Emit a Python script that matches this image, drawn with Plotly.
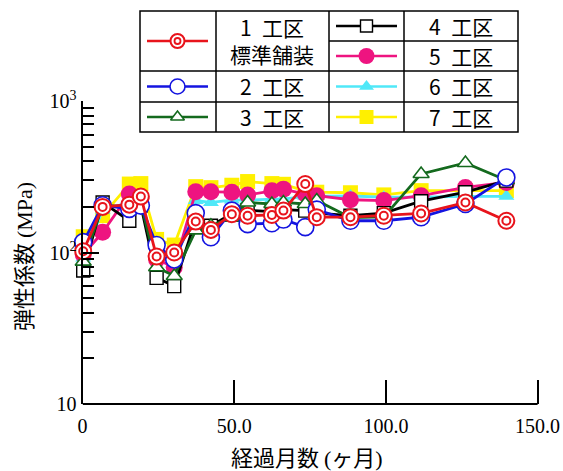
import plotly.graph_objects as go

# ---------------- data ----------------
months = [0.2, 6.6, 15.4, 19.2, 24.4, 30.2, 37.3, 42.3, 49.2, 54.4, 62.4, 66.2,
          73.4, 77.2, 88.3, 99.3, 111.6, 126.2, 139.7]
sec1 = [102, 200, 207, 234, 94, 100, 160, 141, 179, 175, 177, 189, 283, 171, 171, 175, 181, 214, 162]
sec2 = [117, 205, 194, 204, 112, 90, 182, 126, 189, 154, 156, 165, 147, 192, 162, 162, 171, 209, 313]
sec3 = [87, 205, 200, 212, 80, 70, 140, 150, 170, 214, 209, 214, 209, 220, 170, 172, 330, 390, 300]
sec4 = [76, 214, 162, 205, 68, 60, 165, 150, 180, 190, 186, 192, 189, 182, 175, 182, 218, 250, 298]
sec5 = [97, 136, 243, 228, 90, 80, 252, 252, 250, 240, 256, 262, 243, 237, 223, 220, 237, 269, 290]
sec6 = [92, 190, 215, 220, 98, 82, 220, 214, 222, 222, 225, 225, 235, 235, 236, 232, 232, 235, 235]
sec7 = [127, 175, 283, 285, 122, 112, 272, 268, 278, 294, 285, 282, 255, 250, 248, 240, 256, 256, 256]

x_tickvals = [0, 50, 100, 150]
x_ticktext = ["0", "50.0", "100.0", "150.0"]
y_tickvals = [10, 100, 1000]
y_ticktext = ["10", "10<sup>2</sup>", "10<sup>3</sup>"]
y_minor = [20, 30, 40, 50, 60, 70, 80, 90, 200, 300, 400, 500, 600, 700, 800, 900]

labels = ["1\u2002工区<br>標準舗装", "2\u2002工区", "3\u2002工区", "4\u2002工区",
          "5\u2002工区", "6\u2002工区", "7\u2002工区"]

# ---------------- styles ----------------
RED = "#e8141c"
BLUE = "#1414e0"
GREEN = "#146a1e"
BLACK = "#000000"
MAGENTA = "#ee1480"
CYAN = "#50e8f8"
YELLOW = "#fff000"

OFF = 0                      # body margin removed by post script
SW, SH = 563, 471
W, H = SW - OFF, SH - OFF
PL, PR, PT, PB = 82.6, 541, 101, 404
XPX = (537.6 - 82.6) / 150.0
xmax = (PR - PL) / XPX

SERIF = "Liberation Serif"
SANS = "Noto Sans CJK JP"


def px(sx):
    return (sx - OFF) / W


def py(sy):
    return 1 - (sy - OFF) / H


styles = [
    dict(color=RED, symbol="circle", size=16, fill="white", lw=2),
    dict(color=BLUE, symbol="circle", size=17, fill="white", lw=1.6),
    dict(color=GREEN, symbol="triangle-up", size=14, fill="white", lw=1.6),
    dict(color=BLACK, symbol="square", size=13, fill="white", lw=1.4),
    dict(color=MAGENTA, symbol="circle", size=17, fill=MAGENTA, lw=0),
    dict(color=CYAN, symbol="triangle-up", size=14, fill=CYAN, lw=0),
    dict(color=YELLOW, symbol="square", size=15, fill=YELLOW, lw=0),
]
series = [sec1, sec2, sec3, sec4, sec5, sec6, sec7]

fig = go.Figure()

for i in reversed(range(7)):
    s = styles[i]
    fig.add_trace(go.Scatter(
        x=months, y=series[i], mode="lines+markers",
        line=dict(color=s["color"], width=2.8),
        marker=dict(symbol=s["symbol"], size=s["size"], color=s["fill"],
                    line=dict(color=s["color"], width=s["lw"])),
        cliponaxis=False, showlegend=False, hoverinfo="skip"))
    if i == 0:
        fig.add_trace(go.Scatter(
            x=months, y=series[i], mode="markers",
            marker=dict(symbol="circle", size=8, color="white",
                        line=dict(color=s["color"], width=2)),
            cliponaxis=False, showlegend=False, hoverinfo="skip"))

# ---------------- legend table ----------------
shapes = []
box_l, box_r, box_t, box_b = 140, 518, 11, 132
vcols = [216, 329, 404]
LW = 1.5
shapes.append(dict(type="rect", xref="paper", yref="paper",
                   x0=px(box_l), x1=px(box_r), y0=py(box_b), y1=py(box_t),
                   line=dict(color="black", width=LW), fillcolor="white", layer="below"))
for vx in vcols:
    shapes.append(dict(type="line", xref="paper", yref="paper",
                       x0=px(vx), x1=px(vx), y0=py(box_b), y1=py(box_t),
                       line=dict(color="black", width=LW), layer="below"))
for hy in [71, 102]:
    shapes.append(dict(type="line", xref="paper", yref="paper",
                       x0=px(box_l), x1=px(box_r), y0=py(hy), y1=py(hy),
                       line=dict(color="black", width=LW), layer="below"))
shapes.append(dict(type="line", xref="paper", yref="paper",
                   x0=px(329), x1=px(box_r), y0=py(41), y1=py(41),
                   line=dict(color="black", width=LW), layer="below"))

left_rows = [41, 86.5, 117]
right_rows = [26, 56, 86.5, 117]
leg_pos = []
for yy in left_rows:
    leg_pos.append((147, 208, yy, 272))
for yy in right_rows:
    leg_pos.append((336, 397, yy, 461))

annotations = []
for i, (x0, x1, yy, lx) in enumerate(leg_pos):
    s = styles[i]
    shapes.append(dict(type="line", xref="paper", yref="paper",
                       x0=px(x0), x1=px(x1), y0=py(yy), y1=py(yy),
                       line=dict(color=s["color"], width=2.5), layer="below"))
    annotations.append(dict(xref="paper", yref="paper", x=px(lx), y=py(yy),
                            text=labels[i], showarrow=False,
                            font=dict(family=SANS, size=21, color="black"),
                            xanchor="center", yanchor="middle"))

lx_list = [(a + b) / 2 for a, b, _, _ in leg_pos]
ly_list = [c for _, _, c, _ in leg_pos]
for i in range(7):
    s = styles[i]
    sz = {0: 14, 1: 15, 2: 12, 3: 12, 4: 16, 5: 13, 6: 14}[i]
    fig.add_trace(go.Scatter(
        x=[lx_list[i]], y=[ly_list[i]], mode="markers", xaxis="x2", yaxis="y2",
        marker=dict(symbol=s["symbol"], size=sz, color=s["fill"],
                    line=dict(color=s["color"], width=s["lw"])),
        cliponaxis=False, showlegend=False, hoverinfo="skip"))
    if i == 0:
        fig.add_trace(go.Scatter(
            x=[lx_list[i]], y=[ly_list[i]], mode="markers", xaxis="x2", yaxis="y2",
            marker=dict(symbol="circle", size=6, color="white",
                        line=dict(color=s["color"], width=1.8)),
            cliponaxis=False, showlegend=False, hoverinfo="skip"))

# x axis line only up to 150
shapes.append(dict(type="line", xref="x", yref="paper", x0=0, x1=150,
                   y0=py(PB), y1=py(PB), line=dict(color="black", width=2)))

# axis titles
annotations.append(dict(xref="paper", yref="paper", x=px(307), y=py(456),
                        text="<span style='font-family:Noto Sans CJK JP'>経過月数</span>"
                             " <span style='font-family:Liberation Serif'>(</span>"
                             "<span style='font-family:Noto Sans CJK JP'>ヶ月</span>"
                             "<span style='font-family:Liberation Serif'>)</span>",
                        showarrow=False, font=dict(family=SANS, size=22, color="black"),
                        xanchor="center", yanchor="middle"))
annotations.append(dict(xref="paper", yref="paper", x=px(22), y=py(257),
                        text="<span style='font-family:Noto Sans CJK JP'>弾性係数</span>"
                             " <span style='font-family:Liberation Serif'>(MPa)</span>",
                        showarrow=False, textangle=-90,
                        font=dict(family=SANS, size=22, color="black"),
                        xanchor="center", yanchor="middle"))

fig.update_layout(
    width=W, height=H,
    margin=dict(l=0, r=0, t=0, b=0, pad=0),
    paper_bgcolor="white", plot_bgcolor="rgba(0,0,0,0)",
    showlegend=False,
    shapes=shapes, annotations=annotations,
    xaxis=dict(domain=[px(PL), px(PR)], range=[0, xmax], automargin=False,
               showline=False, showgrid=False, zeroline=False,
               tickmode="array", tickvals=x_tickvals, ticktext=x_ticktext,
               ticks="inside", ticklen=24, tickwidth=1.5, tickcolor="black",
               ticklabelstandoff=8,
               tickfont=dict(family=SERIF, size=20, color="black")),
    yaxis=dict(domain=[py(PB), py(PT)], type="log", range=[1, 3], automargin=False,
               showline=True, linecolor="black", linewidth=2,
               showgrid=False, zeroline=False,
               tickmode="array", tickvals=y_tickvals, ticktext=y_ticktext,
               ticks="inside", ticklen=16, tickwidth=1.5, tickcolor="black",
               tickfont=dict(family=SERIF, size=20, color="black")),
    xaxis2=dict(domain=[0, 1], anchor="y2", range=[OFF, SW], visible=False),
    yaxis2=dict(domain=[0, 1], anchor="x2", range=[SH, OFF], visible=False),
)
fig.update_yaxes(minor=dict(tickmode="array", tickvals=y_minor, ticks="inside",
                            ticklen=11, tickwidth=1.5, tickcolor="black", showgrid=False),
                 selector=dict(type="log"))

fig.write_html("out.html",
               config={"displayModeBar": False},
               post_script="document.body.style.margin='0px';"
                           "document.body.style.overflow='hidden';")
